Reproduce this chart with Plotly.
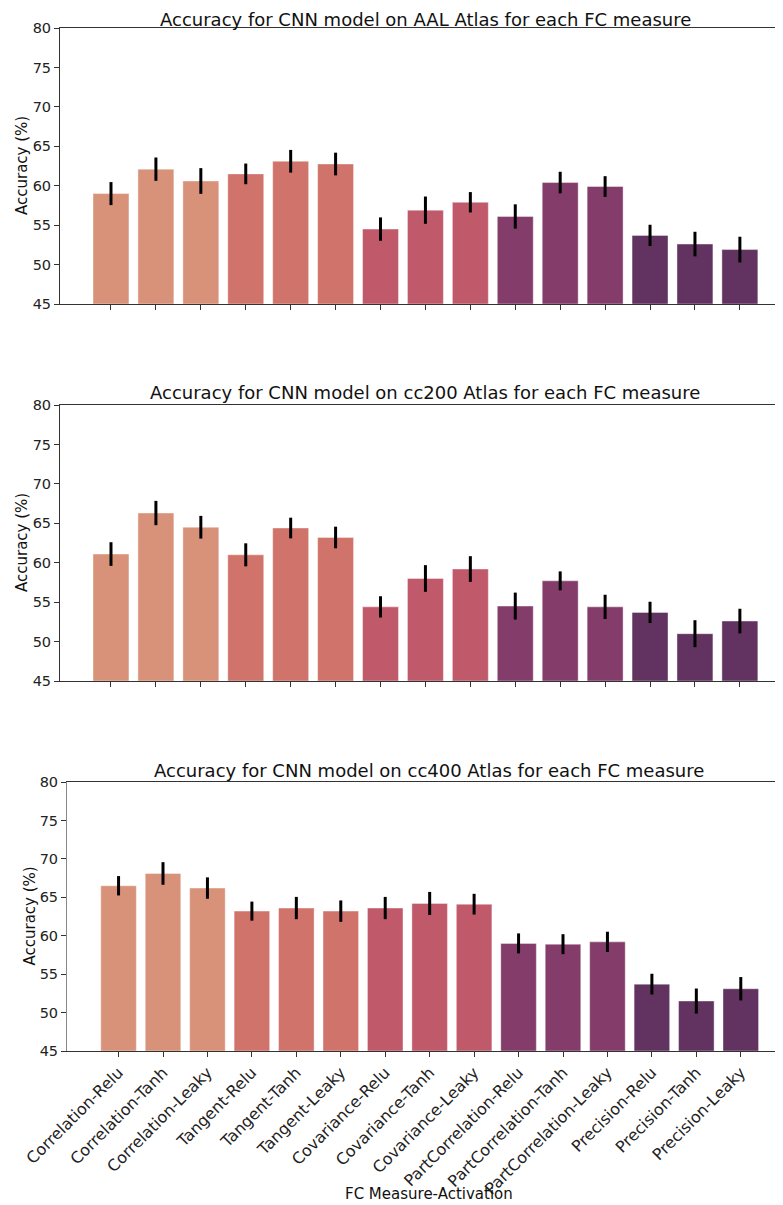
import plotly.graph_objects as go

categories = ["Correlation-Relu", "Correlation-Tanh", "Correlation-Leaky",
              "Tangent-Relu", "Tangent-Tanh", "Tangent-Leaky",
              "Covariance-Relu", "Covariance-Tanh", "Covariance-Leaky",
              "PartCorrelation-Relu", "PartCorrelation-Tanh", "PartCorrelation-Leaky",
              "Precision-Relu", "Precision-Tanh", "Precision-Leaky"]

aal_acc = [59.0, 62.1, 60.6, 61.5, 63.1, 62.75, 54.5, 56.9, 57.9, 56.1, 60.4, 59.9, 53.7, 52.6, 51.9]
aal_err = [1.46, 1.48, 1.63, 1.31, 1.44, 1.44, 1.48, 1.73, 1.29, 1.54, 1.37, 1.31, 1.35, 1.56, 1.63]

cc200_acc = [61.1, 66.3, 64.5, 61.0, 64.4, 63.2, 54.4, 58.0, 59.2, 54.5, 57.7, 54.4, 53.7, 51.0, 52.6]
cc200_err = [1.5, 1.54, 1.44, 1.46, 1.31, 1.37, 1.35, 1.69, 1.63, 1.71, 1.2, 1.54, 1.35, 1.71, 1.56]

cc400_acc = [66.5, 68.1, 66.2, 63.2, 63.6, 63.2, 63.6, 64.2, 64.1, 59.0, 58.9, 59.2, 53.7, 51.5, 53.1]
cc400_err = [1.26, 1.47, 1.39, 1.24, 1.45, 1.39, 1.45, 1.5, 1.35, 1.3, 1.3, 1.32, 1.35, 1.63, 1.52]

titles = ["Accuracy for CNN model on AAL Atlas for each FC measure",
          "Accuracy for CNN model on cc200 Atlas for each FC measure",
          "Accuracy for CNN model on cc400 Atlas for each FC measure"]

group_colors = ["#D9927A", "#D0736A", "#C05A6B", "#843C6B", "#623260"]
bar_colors = [group_colors[i // 3] for i in range(len(categories))]

W, H = 783, 1205
OFF = 8  # page body margin in the browser
FONT = "DejaVu Sans"
YTICK = 14.5
XTICK = 16
LAB = 15

panels = [
    dict(acc=aal_acc, err=aal_err, top=28, bot=304, left=60, rng=[-1.135, 14.96], title_y=16, ylab_x=22),
    dict(acc=cc200_acc, err=cc200_err, top=405, bot=681, left=60, rng=[-1.135, 14.96], title_y=393, ylab_x=22),
    dict(acc=cc400_acc, err=cc400_err, top=782, bot=1051, left=67, rng=[-1.16, 14.95], title_y=770, ylab_x=29),
]


def px(x):
    return (x - OFF) / W


def py(y):
    return (H - (y - OFF)) / H


fig = go.Figure()
xs = list(range(len(categories)))
annotations = []
for i, p in enumerate(panels):
    xa = "x" if i == 0 else f"x{i+1}"
    ya = "y" if i == 0 else f"y{i+1}"
    fig.add_trace(go.Bar(
        x=xs, y=[v - 45 for v in p["acc"]], base=45, width=0.8,
        marker=dict(color=bar_colors, line=dict(color="rgba(255,255,255,0.5)", width=0.8)),
        error_y=dict(type="data", array=p["err"], color="black", thickness=3, width=0),
        xaxis=xa, yaxis=ya, showlegend=False, hoverinfo="skip",
    ))
    xkey = "xaxis" if i == 0 else f"xaxis{i+1}"
    ykey = "yaxis" if i == 0 else f"yaxis{i+1}"
    right_val = p["rng"][0] + (p["rng"][1] - p["rng"][0]) * (W + OFF - p["left"]) / (783 - p["left"])
    fig.layout[xkey] = dict(
        domain=[px(p["left"]), 1.0], anchor=ya, range=[p["rng"][0], right_val], automargin=False,
        tickmode="array", tickvals=xs, ticktext=categories,
        showticklabels=(i == 2), tickangle=-45,
        ticks="outside", ticklen=5, tickcolor="#333", tickwidth=1,
        showline=True, linecolor="#333", linewidth=1, mirror=True,
        showgrid=False, zeroline=False,
        tickfont=dict(family=FONT, size=XTICK, color="#222"),
    )
    fig.layout[ykey] = dict(
        domain=[py(p["bot"]), py(p["top"])], anchor=xa, automargin=False,
        range=[45, 80], tickmode="array", tickvals=[45, 50, 55, 60, 65, 70, 75, 80],
        ticks="outside", ticklen=5, tickcolor="#333", tickwidth=1,
        showline=True, linecolor="#333" if i < 2 else "#888", linewidth=1,
        showgrid=False, zeroline=False,
        tickfont=dict(family=FONT, size=YTICK, color="#222"),
    )
    if i == 0:
        ty, yanc = 1.0, "top"
    else:
        ty, yanc = py(p["title_y"]), "middle"
    annotations.append(dict(
        text=titles[i], x=px((p["left"] + 790) / 2), y=ty,
        xref="paper", yref="paper", showarrow=False, xanchor="center", yanchor=yanc,
        borderpad=0, font=dict(family=FONT, size=18, color="#111"),
    ))
    annotations.append(dict(
        text="Accuracy (%)", x=px(p["ylab_x"]), y=py((p["top"] + p["bot"]) / 2),
        xref="paper", yref="paper", showarrow=False, textangle=-90,
        xanchor="center", yanchor="middle",
        font=dict(family=FONT, size=LAB, color="#111"),
    ))

annotations.append(dict(
    text="FC Measure-Activation", x=px((67 + 790) / 2), y=py(1194),
    xref="paper", yref="paper", showarrow=False, xanchor="center", yanchor="middle",
    font=dict(family=FONT, size=LAB, color="#111"),
))

fig.update_layout(
    width=W, height=H, margin=dict(l=0, r=0, t=0, b=0),
    paper_bgcolor="white", plot_bgcolor="white",
    annotations=annotations, bargap=0.2,
)

fig.write_html("out.html")
